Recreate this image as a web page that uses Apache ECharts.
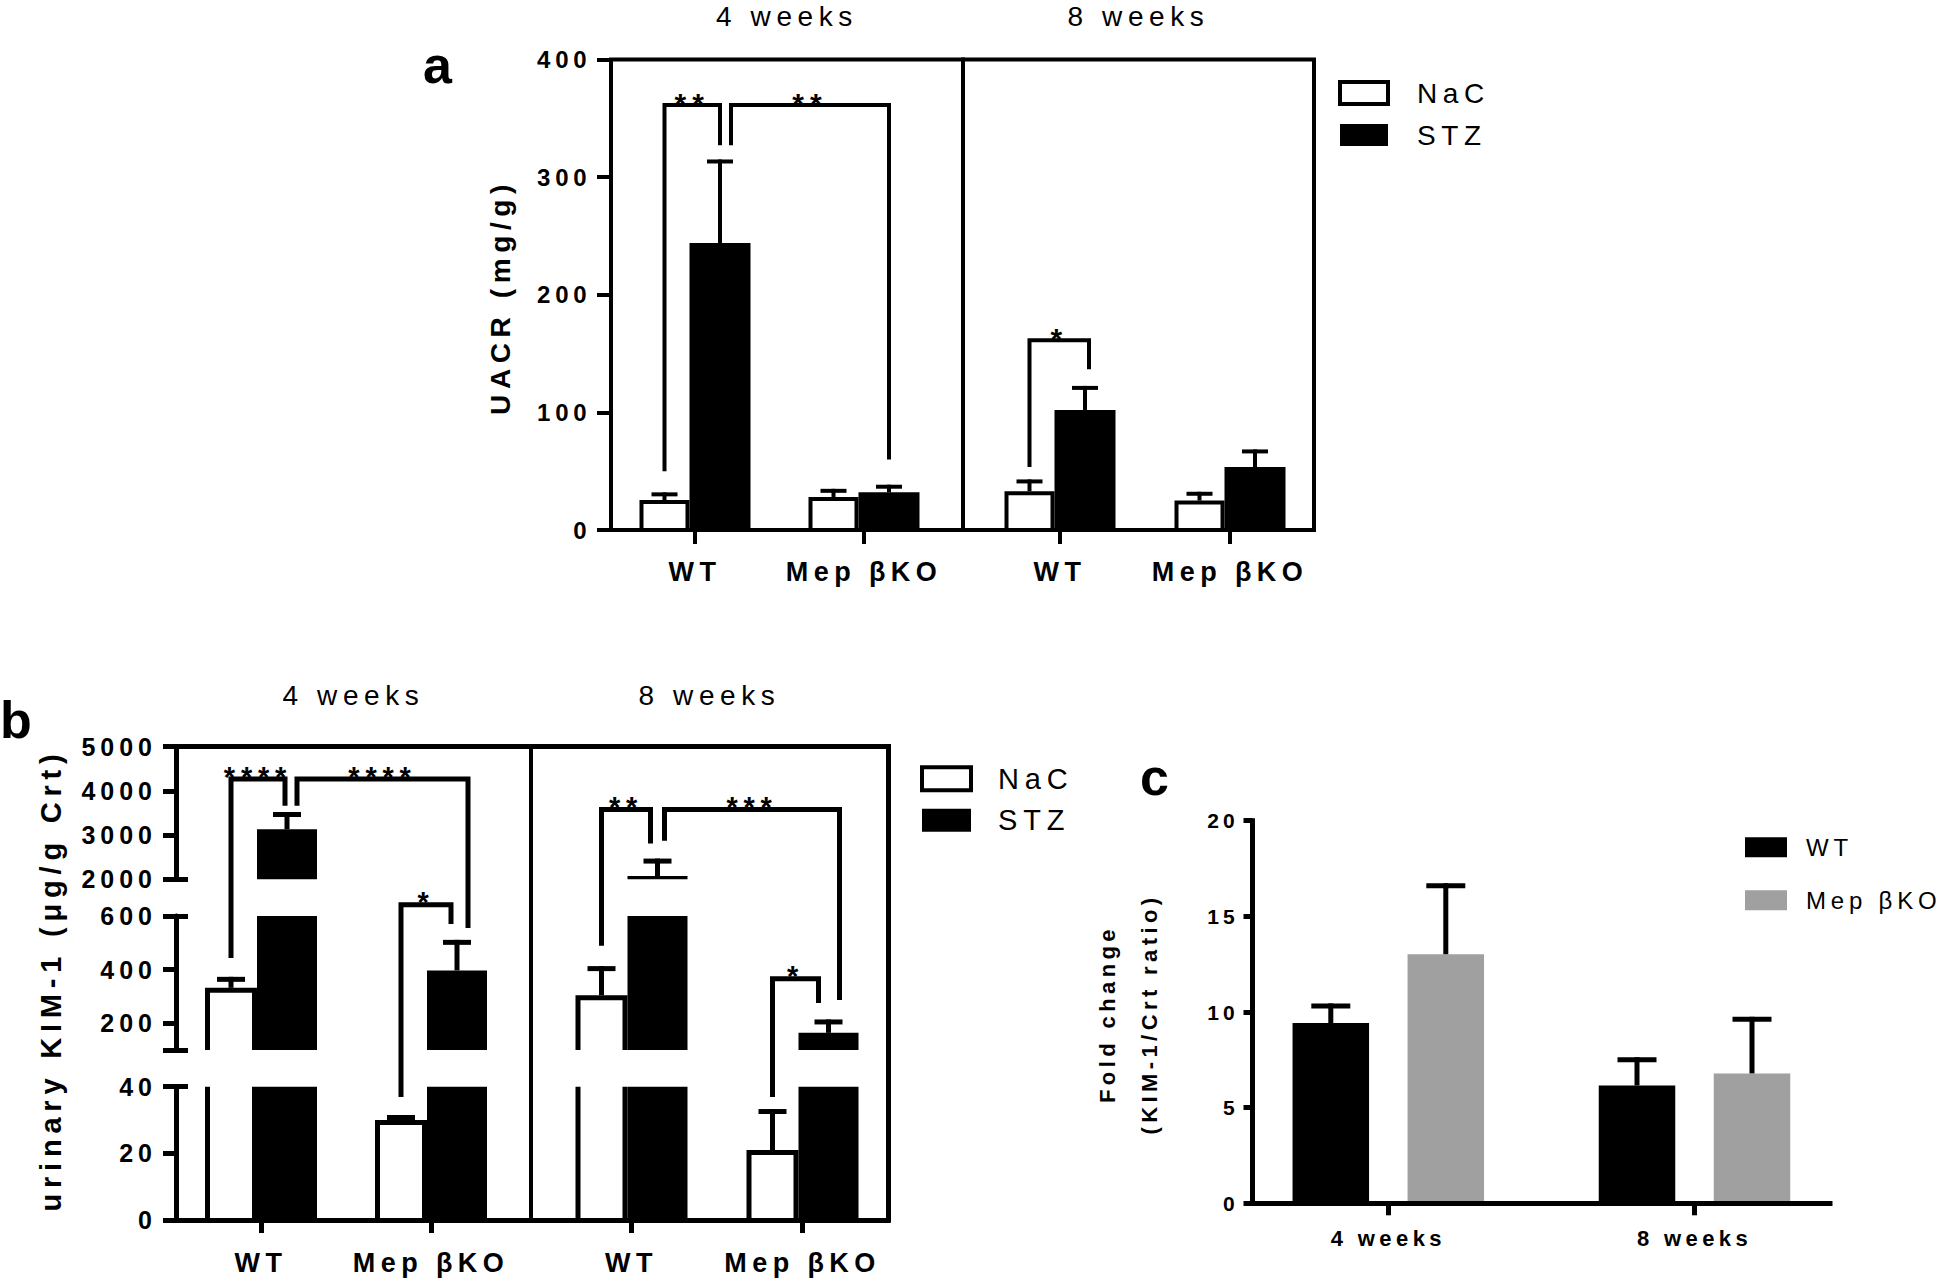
<!DOCTYPE html>
<html>
<head>
<meta charset="utf-8">
<script src="https://cdn.jsdelivr.net/npm/echarts@6/dist/echarts.min.js"></script>
<style>
html, body { margin: 0; padding: 0; background: #fff; }
#chart { width: 1942px; height: 1283px; }
#chart text { letter-spacing: 0.2em; }
</style>
</head>
<body>
<div id="chart"></div>
<script>
// ================= DATA =================
const groupLabels = ['WT', 'Mep βKO'];
const periodLabels = ['4 weeks', '8 weeks'];

// Panel a: UACR (mg/g), values per group [WT, Mep βKO]; SEM = upper error
const uacrNaC4 = [25.5, 28];
const uacrNaC4Sem = [6.5, 7];
const uacrSTZ4 = [244, 32];
const uacrSTZ4Sem = [71, 6.5];
const uacrNaC8 = [33, 25];
const uacrNaC8Sem = [10, 7.5];
const uacrSTZ8 = [102, 53.5];
const uacrSTZ8Sem = [20.5, 15];
const uacrRange = [0, 400];
const uacrInterval = 100;

// Panel b: urinary KIM-1 (µg/g Crt)
const kimNaC4 = [332, 30];
const kimNaC4Sem = [41, 1.5];
const kimSTZ4 = [3130, 397];
const kimSTZ4Sem = [390, 114];
const kimNaC8 = [304, 21];
const kimNaC8Sem = [109, 12.3];
const kimSTZ8 = [2075, 164];
const kimSTZ8Sem = [393, 50];
// broken y axis: segments bottom -> top
const kimSegments = [[0, 40], [100, 600], [2000, 5000]];
const kimTickValues = [[0, 20, 40], [100, 200, 400, 600], [2000, 3000, 4000, 5000]];
const kimLabelValues = [[0, 20, 40], [200, 400, 600], [2000, 3000, 4000, 5000]];
const kimBreakCaps = [[40], [100, 600], [2000]];

// Panel c: fold change (KIM-1/Crt ratio), per period [4 weeks, 8 weeks]
const foldWT = [9.42, 6.16];
const foldWTSem = [1.03, 1.48];
const foldMep = [13.02, 6.79];
const foldMepSem = [3.71, 2.96];
const foldRange = [0, 20];
const foldInterval = 5;

// Significance brackets: legs on bars [groupIndex, condition]; heights in data units
const bracketsA = [
  { period: 0, from: [0, 'NaC'], to: [0, 'STZ'], top: 363, ends: [50, 327], label: '**' },
  { period: 0, from: [0, 'STZ'], to: [1, 'STZ'], top: 363, ends: [327, 60], label: '**' },
  { period: 1, from: [0, 'NaC'], to: [0, 'STZ'], top: 163, ends: [53.6, 136.6], label: '*' }
];
const bracketsB = [
  { period: 0, from: [0, 'NaC'], to: [0, 'STZ'], top: 4320, ends: [443, 3660], label: '****' },
  { period: 0, from: [0, 'STZ'], to: [1, 'STZ'], top: 4320, ends: [3660, 555], label: '****' },
  { period: 0, from: [1, 'NaC'], to: [1, 'STZ'], top: 1120, ends: [36.9, 570], label: '*' },
  { period: 1, from: [0, 'NaC'], to: [0, 'STZ'], top: 3636, ends: [489, 2808], label: '**' },
  { period: 1, from: [0, 'STZ'], to: [1, 'STZ'], top: 3636, ends: [2870, 287], label: '***' },
  { period: 1, from: [1, 'NaC'], to: [1, 'STZ'], top: 375, ends: [36.9, 275], label: '*' }
];

// ================= STYLE / LAYOUT =================
const FONT = "'Liberation Sans', Arial, Helvetica, sans-serif";
const LA = { wN: 50, wS: 61, lw: 4, cap: 26 };
const LB = { wN: 52, wS: 60, lw: 5, cap: 28 };
const NUDGE_A = [[0, 0], [11, 0], [0, 4]];
const NUDGE_B = [[0, -2], [10, 11], [0, -6], [0, -7], [7, 11], [0, -10]];
const C_BAR_W = 76.5, C_GAP = 38.5;

const chart = echarts.init(document.getElementById('chart'), null, { renderer: 'svg', width: 1942, height: 1283 });

function pairOffset(L, cond) {
  const t = L.wN + L.wS;
  return cond === 'NaC' ? -t / 2 : -t / 2 + L.wN;
}

function makeBarRenderer(cond, seg, L) {
  const off = pairOffset(L, cond);
  const w = cond === 'NaC' ? L.wN : L.wS;
  return function (params, api) {
    const cat = api.value(0), v = api.value(1), eTop = api.value(2);
    const lo = seg[0], hi = seg[1];
    if (v <= lo) return null;
    const pB = api.coord([cat, lo]);
    const yB = pB[1];
    const yT = api.coord([cat, Math.min(v, hi)])[1];
    const x0 = pB[0] + off;
    const h = L.lw / 2;
    const closed = v <= hi;
    const line = { stroke: '#000', lineWidth: L.lw, fill: null, lineJoin: 'miter' };
    const kids = [];
    if (cond === 'STZ') {
      kids.push({ type: 'rect', shape: { x: x0, y: yT, width: w, height: yB - yT }, style: { fill: '#000' } });
    } else {
      kids.push({ type: 'rect', shape: { x: x0, y: yT, width: w, height: yB - yT }, style: { fill: '#fff' } });
      if (closed) {
        kids.push({ type: 'polyline', shape: { points: [[x0 + h, yB], [x0 + h, yT + h], [x0 + w - h, yT + h], [x0 + w - h, yB]] }, style: line });
      } else {
        kids.push({ type: 'line', shape: { x1: x0 + h, y1: yB, x2: x0 + h, y2: yT }, style: line });
        kids.push({ type: 'line', shape: { x1: x0 + w - h, y1: yB, x2: x0 + w - h, y2: yT }, style: line });
      }
    }
    if (closed && eTop > v) {
      const yE = api.coord([cat, Math.min(eTop, hi)])[1];
      const cx = x0 + w / 2;
      kids.push({ type: 'line', shape: { x1: cx, y1: yT, x2: cx, y2: yE }, style: line });
      kids.push({ type: 'line', shape: { x1: cx - L.cap / 2, y1: yE + h, x2: cx + L.cap / 2, y2: yE + h }, style: line });
    }
    return { type: 'group', children: kids };
  };
}

function makeErrRenderer(offset, capW, lw) {
  return function (params, api) {
    const cat = api.value(0), v = api.value(1), eTop = api.value(2);
    const p = api.coord([cat, v]);
    const yE = api.coord([cat, eTop])[1];
    const cx = p[0] + offset;
    const st = { stroke: '#000', lineWidth: lw };
    return { type: 'group', children: [
      { type: 'line', shape: { x1: cx, y1: p[1], x2: cx, y2: yE }, style: st },
      { type: 'line', shape: { x1: cx - capW / 2, y1: yE + lw / 2, x2: cx + capW / 2, y2: yE + lw / 2 }, style: st }
    ] };
  };
}

function itemsOf(vals, sems) { return vals.map((v, i) => [i, v, v + sems[i]]); }

// ---------- grids ----------
const grid = [
  { left: 611, top: 59.5, width: 352, height: 470.5, show: true, borderColor: '#000', borderWidth: 4, z: 10 }, //0
  { left: 963, top: 59.5, width: 351, height: 470.5, show: true, borderColor: '#000', borderWidth: 4, z: 10 }, //1
  { left: 610.5, top: 59.5, width: 338, height: 470.5 }, //2
  { left: 975, top: 59.5, width: 340, height: 470.5 }, //3
  { left: 176, top: 746.5, width: 712, height: 473.5 }, //4
  { left: 176, top: 746.5, width: 355, height: 473.5 }, //5
  { left: 176, top: 1086.7, width: 340, height: 133.3 }, //6
  { left: 176, top: 916, width: 340, height: 134 }, //7
  { left: 176, top: 746.5, width: 340, height: 132.8 }, //8
  { left: 546, top: 1086.7, width: 342, height: 133.3 }, //9
  { left: 546, top: 916, width: 342, height: 134 }, //10
  { left: 546, top: 746.5, width: 342, height: 132.8 }, //11
  { left: 1252.5, top: 820.7, width: 577.5, height: 382.6 }, //12
  { left: 1235.2, top: 820.7, width: 612.4, height: 382.6 } //13
].map(g => Object.assign({ outerBoundsMode: 'none', containLabel: false }, g));

const blackLine = (w) => ({ color: '#000', width: w, cap: 'square' });
const plainNum = v => String(v);
const hiddenCat = (gi, data) => ({ type: 'category', gridIndex: gi, data: data || groupLabels, show: false });
const visCat = (gi, data, tickLen, tickW, fs, margin) => ({
  type: 'category', gridIndex: gi, data: data,
  axisLine: { show: false, onZero: false },
  axisTick: { show: true, alignWithLabel: true, length: tickLen, lineStyle: { color: '#000', width: tickW } },
  axisLabel: { interval: 0, color: '#000', fontWeight: 'bold', fontSize: fs, margin: margin, fontFamily: FONT },
  splitLine: { show: false }
});
const lineOnlyX = (gi, pos, w) => ({
  type: 'category', gridIndex: gi, data: [''], position: pos, z: 10,
  axisLine: { show: true, onZero: false, lineStyle: blackLine(w) },
  axisTick: { show: false }, axisLabel: { show: false }, splitLine: { show: false }
});
const hiddenVal = (gi, min, max) => ({ type: 'value', gridIndex: gi, min: min, max: max, show: false, splitLine: { show: false } });

const xAxis = [
  hiddenCat(0), //0
  hiddenCat(1), //1
  visCat(2, groupLabels, 14, 4, 27, 28), //2
  visCat(3, groupLabels, 14, 4, 27, 28), //3
  lineOnlyX(4, 'bottom', 5), //4
  lineOnlyX(4, 'top', 5), //5
  hiddenCat(5), //6
  visCat(6, groupLabels, 13, 5, 27, 29), //7
  hiddenCat(7), //8
  hiddenCat(8), //9
  visCat(9, groupLabels, 13, 5, 27, 29), //10
  hiddenCat(10), //11
  hiddenCat(11), //12
  lineOnlyX(12, 'bottom', 5), //13
  visCat(13, periodLabels, 12, 5, 22, 24) //14
];

function kimAxis(gi, si) {
  const s = kimSegments[si];
  return {
    type: 'value', gridIndex: gi, min: s[0], max: s[1], position: 'left', z: 10,
    axisLine: { show: true, onZero: false, lineStyle: { color: '#000', width: 5 } },
    axisTick: { show: true, length: 13, lineStyle: { color: '#000', width: 5 }, customValues: kimTickValues[si] },
    axisLabel: { color: '#000', fontWeight: 'bold', fontSize: 25, margin: 19, fontFamily: FONT,
      customValues: kimLabelValues[si], formatter: plainNum },
    splitLine: { show: false }
  };
}
function kimCapAxis(gi, si) {
  const s = kimSegments[si];
  return {
    type: 'value', gridIndex: gi, min: s[0], max: s[1], position: 'left', z: 10,
    axisLine: { show: false },
    axisTick: { show: true, inside: true, length: 12, lineStyle: { color: '#000', width: 5 }, customValues: kimBreakCaps[si] },
    axisLabel: { show: false }, splitLine: { show: false }
  };
}

const yAxis = [
  { type: 'value', gridIndex: 0, min: uacrRange[0], max: uacrRange[1], interval: uacrInterval,
    axisLine: { show: false }, axisTick: { show: true, length: 14, lineStyle: { color: '#000', width: 4 } },
    axisLabel: { color: '#000', fontWeight: 'bold', fontSize: 24, margin: 19.5, fontFamily: FONT, formatter: plainNum },
    splitLine: { show: false } }, //0
  hiddenVal(1, uacrRange[0], uacrRange[1]), //1
  hiddenVal(2, uacrRange[0], uacrRange[1]), //2
  hiddenVal(3, uacrRange[0], uacrRange[1]), //3
  { type: 'value', gridIndex: 4, position: 'right', z: 10, axisLine: { show: true, onZero: false, lineStyle: blackLine(5) },
    axisTick: { show: false }, axisLabel: { show: false }, splitLine: { show: false } }, //4
  { type: 'value', gridIndex: 5, position: 'right', z: 10, axisLine: { show: true, onZero: false, lineStyle: { color: '#000', width: 4 } },
    axisTick: { show: false }, axisLabel: { show: false }, splitLine: { show: false } }, //5
  kimAxis(6, 0), kimAxis(7, 1), kimAxis(8, 2), //6,7,8
  kimCapAxis(6, 0), kimCapAxis(7, 1), kimCapAxis(8, 2), //9,10,11
  hiddenVal(9, kimSegments[0][0], kimSegments[0][1]), //12
  hiddenVal(10, kimSegments[1][0], kimSegments[1][1]), //13
  hiddenVal(11, kimSegments[2][0], kimSegments[2][1]), //14
  { type: 'value', gridIndex: 12, min: foldRange[0], max: foldRange[1], interval: foldInterval, z: 10,
    axisLine: { show: true, onZero: false, lineStyle: blackLine(5) },
    axisTick: { show: true, length: 9, lineStyle: { color: '#000', width: 5 } },
    axisLabel: { color: '#000', fontWeight: 'bold', fontSize: 21, margin: 13.5, fontFamily: FONT },
    splitLine: { show: false } }, //15
  hiddenVal(13, foldRange[0], foldRange[1]) //16
];

// ---------- series ----------
const series = [];
function barSeries(name, xi, yi, data, seg, L) {
  return {
    type: 'custom', name: name, xAxisIndex: xi, yAxisIndex: yi, data: data,
    renderItem: makeBarRenderer(name, seg, L), z: 3,
    itemStyle: name === 'NaC' ? { color: '#fff', borderColor: '#000', borderWidth: 4 } : { color: '#000' }
  };
}
// a (indices 0..3)
series.push(barSeries('NaC', 2, 2, itemsOf(uacrNaC4, uacrNaC4Sem), uacrRange, LA));
series.push(barSeries('STZ', 2, 2, itemsOf(uacrSTZ4, uacrSTZ4Sem), uacrRange, LA));
series.push(barSeries('NaC', 3, 3, itemsOf(uacrNaC8, uacrNaC8Sem), uacrRange, LA));
series.push(barSeries('STZ', 3, 3, itemsOf(uacrSTZ8, uacrSTZ8Sem), uacrRange, LA));
// b (indices 4..15): half, segment, condition
const kimByHalf = [
  { NaC: itemsOf(kimNaC4, kimNaC4Sem), STZ: itemsOf(kimSTZ4, kimSTZ4Sem), x: [7, 8, 9], y: [6, 7, 8] },
  { NaC: itemsOf(kimNaC8, kimNaC8Sem), STZ: itemsOf(kimSTZ8, kimSTZ8Sem), x: [10, 11, 12], y: [12, 13, 14] }
];
kimByHalf.forEach(hf => {
  kimSegments.forEach((seg, si) => {
    series.push(barSeries('NaC', hf.x[si], hf.y[si], hf.NaC, seg, LB));
    series.push(barSeries('STZ', hf.x[si], hf.y[si], hf.STZ, seg, LB));
  });
});
// c (16..19)
const cOff = (C_BAR_W + C_GAP) / 2;
series.push({ type: 'bar', name: 'WT', xAxisIndex: 14, yAxisIndex: 16, data: foldWT, barWidth: C_BAR_W, barGap: (C_GAP / C_BAR_W * 100) + '%', itemStyle: { color: '#000' }, z: 2 });
series.push({ type: 'bar', name: 'Mep βKO', xAxisIndex: 14, yAxisIndex: 16, data: foldMep, barWidth: C_BAR_W, itemStyle: { color: '#a0a0a0' }, z: 2 });
series.push({ type: 'custom', name: 'WT SEM', xAxisIndex: 14, yAxisIndex: 16, data: itemsOf(foldWT, foldWTSem), renderItem: makeErrRenderer(-cOff, 39, 5), z: 3 });
series.push({ type: 'custom', name: 'Mep βKO SEM', xAxisIndex: 14, yAxisIndex: 16, data: itemsOf(foldMep, foldMepSem), renderItem: makeErrRenderer(cOff, 39, 5), z: 3 });

// ---------- legends ----------
const nacIcon = { color: '#fff', borderColor: '#000', borderWidth: 4 };
const stzIcon = { color: '#000', borderWidth: 0 };
const legend = [
  { orient: 'vertical', left: 1338, top: 79, padding: 0, itemWidth: 48, itemHeight: 22, itemGap: 14, icon: 'rect', selectedMode: false,
    data: [{ name: 'NaC', itemStyle: nacIcon }, { name: 'STZ', itemStyle: stzIcon }],
    textStyle: { fontSize: 28, color: '#000', fontFamily: FONT, padding: [0, 0, 0, 24] } },
  { orient: 'vertical', left: 920, top: 764.3, padding: 0, itemWidth: 49, itemHeight: 23, itemGap: 12.5, icon: 'rect', selectedMode: false,
    data: [{ name: 'NaC', itemStyle: nacIcon }, { name: 'STZ', itemStyle: stzIcon }],
    textStyle: { fontSize: 29, color: '#000', fontFamily: FONT, padding: [0, 0, 0, 22] } },
  { orient: 'vertical', left: 1745, top: 835.3, padding: 0, itemWidth: 42, itemHeight: 20, itemGap: 29, icon: 'rect', selectedMode: false,
    data: [{ name: 'WT', itemStyle: { color: '#000' } }, { name: 'Mep βKO', itemStyle: { color: '#a0a0a0' } }],
    textStyle: { fontSize: 24, color: '#000', fontFamily: FONT, padding: [0, 0, 0, 14] } }
];

chart.setOption({
  animation: false,
  backgroundColor: '#fff',
  textStyle: { fontFamily: FONT },
  grid: grid, xAxis: xAxis, yAxis: yAxis, series: series, legend: legend
});

// ---------- annotations (texts + significance brackets) ----------
function txt(text, x, y, size, weight, align, rot, extra) {
  const st = Object.assign({ text: text, fontSize: size, fontWeight: weight, fontFamily: FONT, fill: '#000',
    align: align, verticalAlign: 'middle', textAlign: align, textVerticalAlign: 'middle' }, extra || {});
  return { type: 'text', x: x, y: y, rotation: rot || 0, style: st, z: 60 };
}
const graphics = [
  txt('a', 423, 65, 52, 'bold', 'left'),
  txt('b', 0, 720, 52, 'bold', 'left'),
  txt('c', 1140, 777, 52, 'bold', 'left'),
  txt(periodLabels[0], 787, 16, 28, 'normal', 'center'),
  txt(periodLabels[1], 1138.5, 16, 28, 'normal', 'center'),
  txt(periodLabels[0], 353.5, 695.3, 28, 'normal', 'center'),
  txt(periodLabels[1], 709.5, 695.3, 28, 'normal', 'center'),
  txt('UACR (mg/g)', 500, 297, 28, 'bold', 'center', Math.PI / 2),
  txt('urinary KIM-1 (μg/g Crt)', 51, 980, 29, 'bold', 'center', Math.PI / 2),
  txt('Fold change\n(KIM-1/Crt ratio)', 1128.5, 1014, 22, 'bold', 'center', Math.PI / 2, { lineHeight: 42 })
];

function barCenterX(seriesIndex, g, cond, L) {
  return chart.convertToPixel({ seriesIndex: seriesIndex }, [g, 0])[0] + pairOffset(L, cond) + (cond === 'NaC' ? L.wN : L.wS) / 2;
}
function bracketGraphic(x1, x2, yTop, y1, y2, lw, label, fs, starDy) {
  return [
    { type: 'polyline', shape: { points: [[x1, y1], [x1, yTop], [x2, yTop], [x2, y2]] },
      style: { stroke: '#000', lineWidth: lw, fill: null, lineJoin: 'miter' }, z: 50 },
    txt(label, (x1 + x2) / 2, yTop - starDy, fs, 'bold', 'center')
  ];
}
// panel a
bracketsA.forEach((b, i) => {
  const si = b.period === 0 ? 0 : 2;
  const yPx = v => chart.convertToPixel({ seriesIndex: si }, [0, v])[1];
  const x1 = barCenterX(si, b.from[0], b.from[1], LA) + NUDGE_A[i][0];
  const x2 = barCenterX(si, b.to[0], b.to[1], LA) + NUDGE_A[i][1];
  const yTop = yPx(b.top) + LA.lw / 2;
  graphics.push(...bracketGraphic(x1, x2, yTop, yPx(b.ends[0]), yPx(b.ends[1]), LA.lw, b.label, 30, 1.5));
});
// panel b: piecewise mapping across the broken axis
function kimY(h, v) {
  const sIdx = i => 4 + h * 6 + i * 2;
  const px = (i, val) => chart.convertToPixel({ seriesIndex: sIdx(i) }, [0, val])[1];
  for (let i = 0; i < kimSegments.length; i++) {
    const s = kimSegments[i];
    if (v >= s[0] && v <= s[1]) return px(i, v);
    if (i < kimSegments.length - 1 && v > s[1] && v < kimSegments[i + 1][0]) {
      const f = (v - s[1]) / (kimSegments[i + 1][0] - s[1]);
      const a = px(i, s[1]), c = px(i + 1, kimSegments[i + 1][0]);
      return a + (c - a) * f;
    }
  }
  return px(kimSegments.length - 1, v);
}
bracketsB.forEach((b, i) => {
  const si = 4 + b.period * 6;
  const x1 = barCenterX(si, b.from[0], b.from[1], LB) + NUDGE_B[i][0];
  const x2 = barCenterX(si, b.to[0], b.to[1], LB) + NUDGE_B[i][1];
  const yTop = kimY(b.period, b.top) + LB.lw / 2;
  graphics.push(...bracketGraphic(x1, x2, yTop, kimY(b.period, b.ends[0]), kimY(b.period, b.ends[1]), LB.lw, b.label, 29, 2.5));
});

chart.setOption({ graphic: { elements: graphics } });
</script>
</body>
</html>
